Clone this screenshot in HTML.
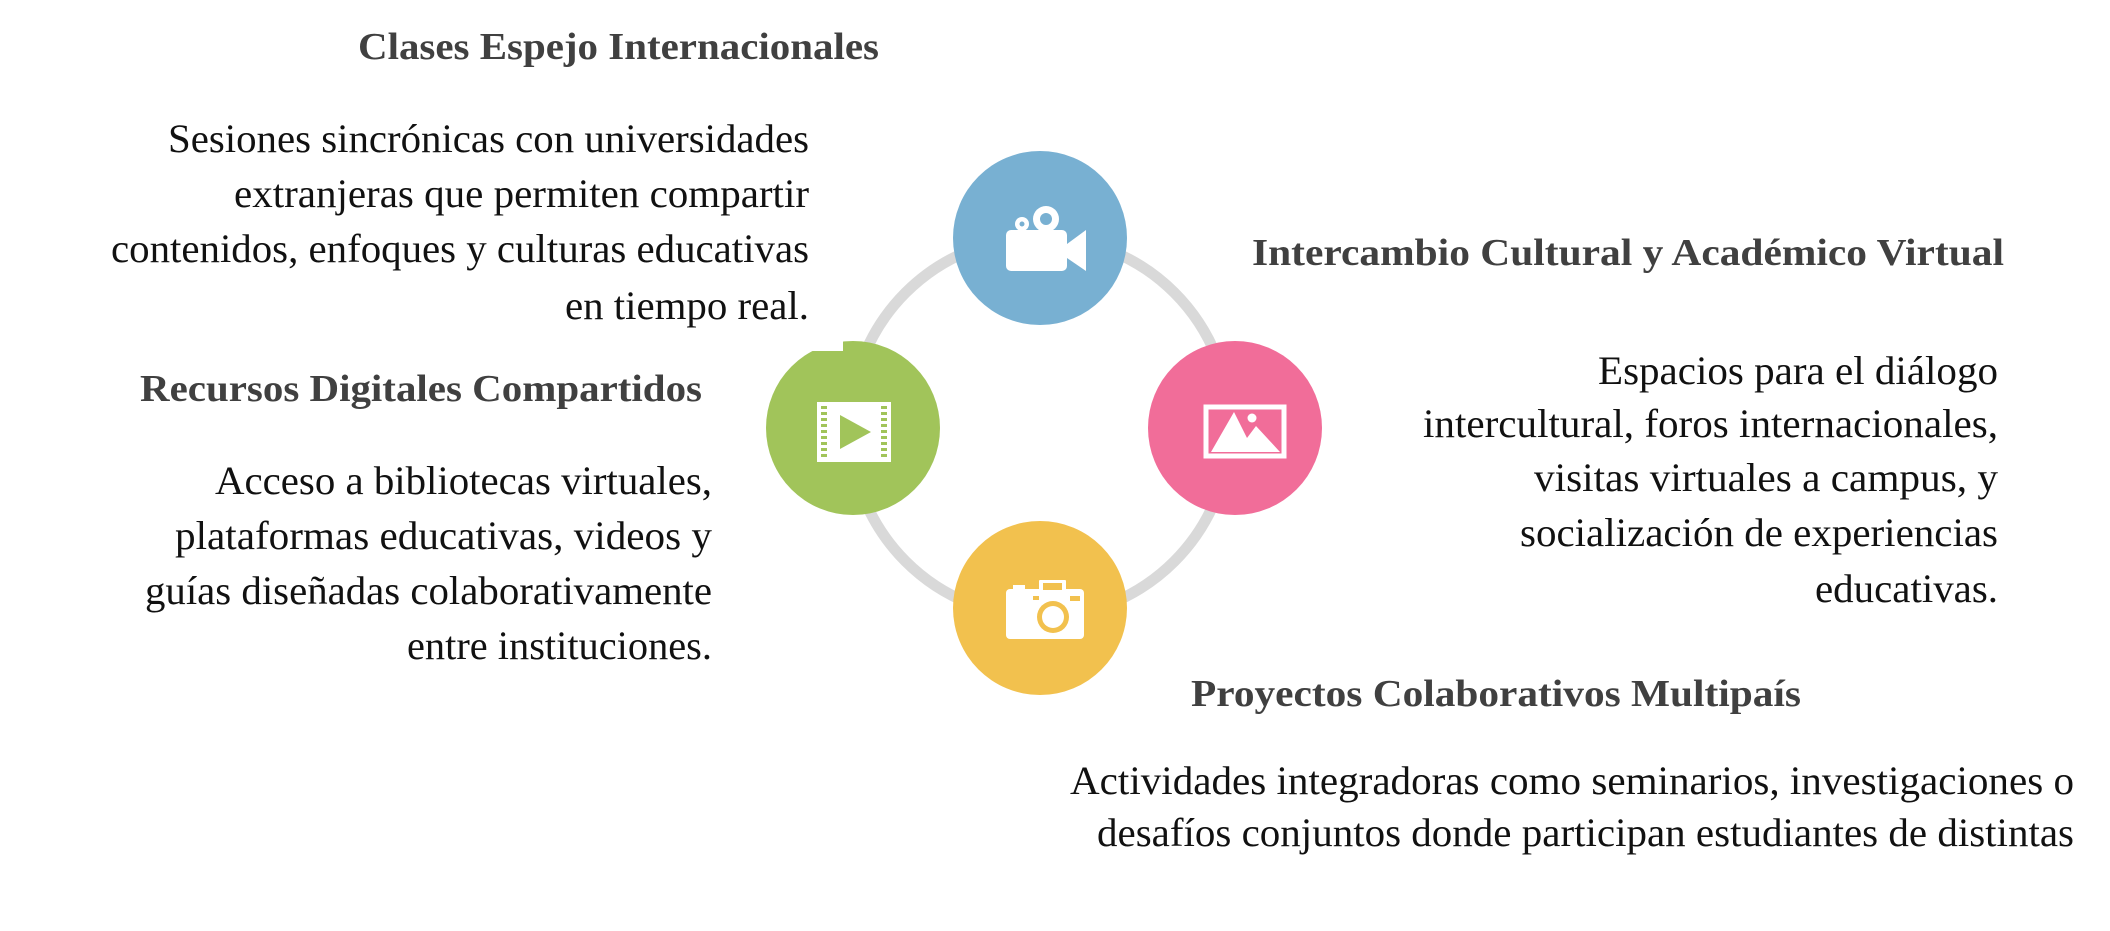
<!DOCTYPE html>
<html><head><meta charset="utf-8"><style>
html,body{margin:0;padding:0;background:#fff;}
svg{display:block;}
.t{font-family:"Liberation Serif",serif;font-weight:bold;font-size:38px;fill:#404040;}
.b{font-family:"Liberation Serif",serif;font-size:40px;fill:#111;}
</style></head><body>
<svg width="2110" height="931" viewBox="0 0 2110 931" xmlns="http://www.w3.org/2000/svg">
<circle cx="1040" cy="427" r="190" fill="none" stroke="#d9d9d9" stroke-width="11"/>
<circle cx="1040" cy="238" r="87" fill="#78b0d2"/>
<circle cx="853" cy="428" r="87" fill="#a1c45a"/>
<rect x="795" y="332" width="48" height="19" fill="#fff"/>
<circle cx="1235" cy="428" r="87" fill="#f16d99"/>
<circle cx="1040" cy="608" r="87" fill="#f2c14e"/>

<!-- video camera -->
<g fill="#fff">
<rect x="1006" y="230" width="61" height="41" rx="5"/>
<polygon points="1067,244 1086,230 1086,271 1067,258"/>
<circle cx="1022" cy="224" r="7"/>
<circle cx="1046" cy="219" r="13"/>
</g>
<circle cx="1022" cy="224" r="2.5" fill="#78b0d2"/>
<circle cx="1046" cy="219" r="6" fill="#78b0d2"/>

<!-- film -->
<rect x="817" y="402" width="74" height="60" fill="#fff"/>
<g stroke="#a1c45a" stroke-width="6" stroke-dasharray="3 3">
<line x1="824" y1="406" x2="824" y2="459"/>
<line x1="884" y1="406" x2="884" y2="459"/>
</g>
<polygon points="840,415 871,432 840,449" fill="#a1c45a"/>

<!-- image -->
<rect x="1206" y="407" width="78" height="49" fill="none" stroke="#fff" stroke-width="5"/>
<polygon points="1211,452 1234,412 1247,438 1256,426 1280,452" fill="#fff"/>
<circle cx="1252" cy="418" r="4.5" fill="#fff"/>

<!-- photo camera -->
<g fill="#fff">
<rect x="1006" y="589" width="78" height="50" rx="4"/>
<rect x="1039" y="580" width="27" height="12" rx="1"/>
<rect x="1013" y="585" width="12" height="6"/>
</g>
<rect x="1043" y="583" width="19" height="7" fill="#f2c14e"/>
<rect x="1033" y="596" width="6" height="4" fill="#f2c14e"/>
<rect x="1070" y="596" width="10" height="5" fill="#f2c14e"/>
<circle cx="1053" cy="617" r="16" fill="#f2c14e"/>
<circle cx="1053" cy="617" r="11" fill="#fff"/>

<!-- texts -->
<text class="t" x="879" y="59" text-anchor="end" textLength="521" lengthAdjust="spacingAndGlyphs">Clases Espejo Internacionales</text>
<text class="b" x="809" y="152" text-anchor="end" textLength="641" lengthAdjust="spacingAndGlyphs">Sesiones sincrónicas con universidades</text>
<text class="b" x="809" y="207" text-anchor="end" textLength="575" lengthAdjust="spacingAndGlyphs">extranjeras que permiten compartir</text>
<text class="b" x="809" y="262" text-anchor="end" textLength="698" lengthAdjust="spacingAndGlyphs">contenidos, enfoques y culturas educativas</text>
<text class="b" x="809" y="319" text-anchor="end" textLength="244" lengthAdjust="spacingAndGlyphs">en tiempo real.</text>

<text class="t" x="702" y="401" text-anchor="end" textLength="562" lengthAdjust="spacingAndGlyphs">Recursos Digitales Compartidos</text>
<text class="b" x="712" y="494" text-anchor="end" textLength="497" lengthAdjust="spacingAndGlyphs">Acceso a bibliotecas virtuales,</text>
<text class="b" x="712" y="549" text-anchor="end" textLength="537" lengthAdjust="spacingAndGlyphs">plataformas educativas, videos y</text>
<text class="b" x="712" y="604" text-anchor="end" textLength="567" lengthAdjust="spacingAndGlyphs">guías diseñadas colaborativamente</text>
<text class="b" x="712" y="659" text-anchor="end" textLength="305" lengthAdjust="spacingAndGlyphs">entre instituciones.</text>

<text class="t" x="2004" y="265" text-anchor="end" textLength="752" lengthAdjust="spacingAndGlyphs">Intercambio Cultural y Académico Virtual</text>
<text class="b" x="1998" y="384" text-anchor="end" textLength="400" lengthAdjust="spacingAndGlyphs">Espacios para el diálogo</text>
<text class="b" x="1998" y="437" text-anchor="end" textLength="575" lengthAdjust="spacingAndGlyphs">intercultural, foros internacionales,</text>
<text class="b" x="1998" y="491" text-anchor="end" textLength="464" lengthAdjust="spacingAndGlyphs">visitas virtuales a campus, y</text>
<text class="b" x="1998" y="546" text-anchor="end" textLength="478" lengthAdjust="spacingAndGlyphs">socialización de experiencias</text>
<text class="b" x="1998" y="602" text-anchor="end" textLength="183" lengthAdjust="spacingAndGlyphs">educativas.</text>

<text class="t" x="1801" y="706" text-anchor="end" textLength="610" lengthAdjust="spacingAndGlyphs">Proyectos Colaborativos Multipaís</text>
<text class="b" x="2074" y="794" text-anchor="end" textLength="1004" lengthAdjust="spacingAndGlyphs">Actividades integradoras como seminarios, investigaciones o</text>
<text class="b" x="2074" y="846" text-anchor="end" textLength="977" lengthAdjust="spacingAndGlyphs">desafíos conjuntos donde participan estudiantes de distintas</text>
</svg>
</body></html>
